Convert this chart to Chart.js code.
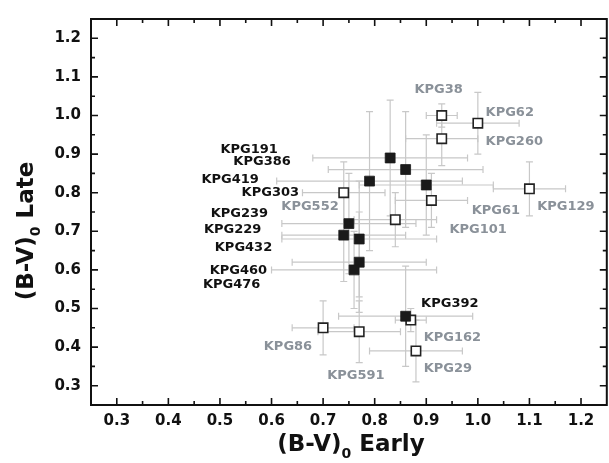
<!DOCTYPE html>
<html>
<head>
<meta charset="utf-8">
<script src="https://cdn.jsdelivr.net/npm/chart.js@4.4.0/dist/chart.umd.min.js"></script>
<style>
  html, body { margin: 0; padding: 0; background: #fff; overflow: hidden; }
  #wrap { width: 609px; height: 463px; overflow: hidden; }
</style>
</head>
<body>
<div id="wrap"><canvas id="chart" width="615" height="463"></canvas></div>
<script>
const X_TICKS = [0.3, 0.4, 0.5, 0.6, 0.7, 0.8, 0.9, 1.0, 1.1, 1.2];
const Y_TICKS = [0.3, 0.4, 0.5, 0.6, 0.7, 0.8, 0.9, 1.0, 1.1, 1.2];

// filled squares (black names)
const filledNames = ["KPG191", "KPG386", "KPG419", "KPG303", "KPG239", "KPG229", "KPG432", "KPG460", "KPG476", "KPG392"];
const filledX     = [0.83, 0.86, 0.79, 0.90, 0.75, 0.74, 0.77, 0.77, 0.76, 0.86];
const filledY     = [0.89, 0.86, 0.83, 0.82, 0.72, 0.69, 0.68, 0.62, 0.60, 0.48];
const filledXErr  = [0.15, 0.15, 0.18, 0.13, 0.13, 0.12, 0.15, 0.13, 0.16, 0.13];
const filledYErr  = [0.15, 0.15, 0.18, 0.13, 0.13, 0.12, 0.15, 0.13, 0.10, 0.13];

// open squares (grey names)
const openNames = ["KPG38", "KPG62", "KPG260", "KPG129", "KPG61", "KPG101", "KPG552", "KPG86", "KPG591", "KPG162", "KPG29"];
const openX     = [0.93, 1.00, 0.93, 1.10, 0.91, 0.84, 0.74, 0.70, 0.77, 0.87, 0.88];
const openY     = [1.00, 0.98, 0.94, 0.81, 0.78, 0.73, 0.80, 0.45, 0.44, 0.47, 0.39];
const openXErr  = [0.03, 0.08, 0.07, 0.07, 0.07, 0.08, 0.08, 0.06, 0.08, 0.03, 0.09];
const openYErr  = [0.03, 0.08, 0.07, 0.07, 0.07, 0.07, 0.08, 0.07, 0.08, 0.03, 0.08];

// where the names are written (axis units, left end of the text baseline)
const filledLabelX = [0.501, 0.526, 0.464, 0.542, 0.482, 0.469, 0.490, 0.480, 0.467, 0.890];
const filledLabelY = [0.904, 0.871, 0.825, 0.792, 0.738, 0.696, 0.650, 0.590, 0.552, 0.504];
const openLabelX   = [0.877, 1.015, 1.015, 1.115, 0.988, 0.945, 0.619, 0.585, 0.708, 0.895, 0.895];
const openLabelY   = [1.057, 1.000, 0.923, 0.754, 0.746, 0.696, 0.754, 0.393, 0.317, 0.417, 0.336];

const FONT = '"DejaVu Sans", "Liberation Sans", Arial, sans-serif';
const GREY = '#8a9199';
const BAR = '#c8c8c8';

function toPoints(xs, ys) {
  return xs.map((x, i) => ({ x: x, y: ys[i] }));
}

// error bars behind the squares
const errorBars = {
  id: 'errorBars',
  beforeDatasetsDraw(chart) {
    const { ctx } = chart;
    const sx = chart.scales.x, sy = chart.scales.y;
    const cap = 3.5;
    ctx.save();
    ctx.strokeStyle = BAR;
    ctx.lineWidth = 1.2;
    chart.data.datasets.forEach(ds => {
      ds.data.forEach((p, i) => {
        const px = sx.getPixelForValue(p.x), py = sy.getPixelForValue(p.y);
        const x0 = sx.getPixelForValue(p.x - ds.errX[i]);
        const x1 = sx.getPixelForValue(p.x + ds.errX[i]);
        const y0 = sy.getPixelForValue(p.y - ds.errY[i]);
        const y1 = sy.getPixelForValue(p.y + ds.errY[i]);
        ctx.beginPath();
        ctx.moveTo(x0, py); ctx.lineTo(x1, py);
        ctx.moveTo(x0, py - cap); ctx.lineTo(x0, py + cap);
        ctx.moveTo(x1, py - cap); ctx.lineTo(x1, py + cap);
        ctx.moveTo(px, y0); ctx.lineTo(px, y1);
        ctx.moveTo(px - cap, y0); ctx.lineTo(px + cap, y0);
        ctx.moveTo(px - cap, y1); ctx.lineTo(px + cap, y1);
        ctx.stroke();
      });
    });
    ctx.restore();
  }
};

// box with inward ticks on all four sides
const frame = {
  id: 'frame',
  afterDatasetsDraw(chart) {
    const { ctx, chartArea: a } = chart;
    const sx = chart.scales.x, sy = chart.scales.y;
    const minor = t => t.slice(0, -1).map((v, i) => (v + t[i + 1]) / 2);
    ctx.save();
    ctx.strokeStyle = '#111';
    ctx.lineWidth = 2;
    ctx.strokeRect(a.left, a.top, a.right - a.left, a.bottom - a.top);
    ctx.lineWidth = 1.6;
    ctx.beginPath();
    const tickX = (v, len) => {
      const p = sx.getPixelForValue(v);
      ctx.moveTo(p, a.bottom); ctx.lineTo(p, a.bottom - len);
      ctx.moveTo(p, a.top); ctx.lineTo(p, a.top + len);
    };
    const tickY = (v, len) => {
      const p = sy.getPixelForValue(v);
      ctx.moveTo(a.left, p); ctx.lineTo(a.left + len, p);
      ctx.moveTo(a.right, p); ctx.lineTo(a.right - len, p);
    };
    X_TICKS.forEach(v => tickX(v, 7));
    minor(X_TICKS).forEach(v => tickX(v, 4));
    Y_TICKS.forEach(v => tickY(v, 7));
    minor(Y_TICKS).forEach(v => tickY(v, 4));
    ctx.stroke();
    ctx.restore();
  }
};

// galaxy names
const names = {
  id: 'names',
  afterDatasetsDraw(chart) {
    const { ctx } = chart;
    const sx = chart.scales.x, sy = chart.scales.y;
    ctx.save();
    ctx.font = 'bold 13px ' + FONT;
    ctx.textAlign = 'left';
    ctx.textBaseline = 'alphabetic';
    ctx.fillStyle = '#111';
    filledNames.forEach((n, i) => {
      ctx.fillText(n, sx.getPixelForValue(filledLabelX[i]), sy.getPixelForValue(filledLabelY[i]));
    });
    ctx.fillStyle = GREY;
    openNames.forEach((n, i) => {
      ctx.fillText(n, sx.getPixelForValue(openLabelX[i]), sy.getPixelForValue(openLabelY[i]));
    });
    ctx.restore();
  }
};

// axis titles with the subscript 0
function subTitle(ctx, pre, sub, post, cx, base, size) {
  const big = 'bold ' + size + 'px ' + FONT;
  const small = 'bold ' + Math.round(size * 0.6) + 'px ' + FONT;
  ctx.font = big;
  const w1 = ctx.measureText(pre).width, w3 = ctx.measureText(post).width;
  ctx.font = small;
  const w2 = ctx.measureText(sub).width;
  let x = cx - (w1 + w2 + w3) / 2;
  ctx.font = big;
  ctx.fillText(pre, x, base);
  x += w1;
  ctx.font = small;
  ctx.fillText(sub, x, base + size * 0.3);
  x += w2;
  ctx.font = big;
  ctx.fillText(post, x, base);
}

const titles = {
  id: 'titles',
  afterDraw(chart) {
    const { ctx } = chart;
    ctx.save();
    ctx.fillStyle = '#111';
    ctx.textAlign = 'left';
    ctx.textBaseline = 'alphabetic';
    subTitle(ctx, '(B-V)', '0', ' Early', 351, 451, 23);
    ctx.translate(33, 231);
    ctx.rotate(-Math.PI / 2);
    subTitle(ctx, '(B-V)', '0', ' Late', 0, 0, 23);
    ctx.restore();
  }
};

const tickFont = { family: FONT, size: 15, weight: 'bold' };

new Chart(document.getElementById('chart'), {
  type: 'scatter',
  data: {
    datasets: [
      {
        label: 'filled',
        data: toPoints(filledX, filledY),
        errX: filledXErr,
        errY: filledYErr,
        pointStyle: 'rect',
        pointRadius: 7,
        pointBackgroundColor: '#1a1a1a',
        pointBorderColor: '#1a1a1a',
        pointBorderWidth: 0.8
      },
      {
        label: 'open',
        data: toPoints(openX, openY),
        errX: openXErr,
        errY: openYErr,
        pointStyle: 'rect',
        pointRadius: 6.6,
        pointBackgroundColor: '#ffffff',
        pointBorderColor: '#222',
        pointBorderWidth: 1.6
      }
    ]
  },
  options: {
    responsive: false,
    animation: false,
    devicePixelRatio: 1,
    events: [],
    layout: { padding: { left: 0, top: 5, right: 4, bottom: 0 } },
    plugins: { legend: { display: false }, tooltip: { enabled: false } },
    scales: {
      x: {
        type: 'linear',
        min: 0.25,
        max: 1.25,
        grid: { display: false, drawTicks: false },
        border: { display: false },
        afterFit: s => { s.height = 58; },
        afterBuildTicks: s => { s.ticks = X_TICKS.map(v => ({ value: v })); },
        ticks: { padding: 7, color: '#111', font: tickFont, autoSkip: false, maxRotation: 0, callback: v => v.toFixed(1) }
      },
      y: {
        type: 'linear',
        min: 0.25,
        max: 1.25,
        grid: { display: false, drawTicks: false },
        border: { display: false },
        afterFit: s => { s.width = 91; },
        afterBuildTicks: s => { s.ticks = Y_TICKS.map(v => ({ value: v })); },
        ticks: { padding: 10, color: '#111', font: tickFont, autoSkip: false, callback: v => v.toFixed(1) }
      }
    }
  },
  plugins: [errorBars, frame, names, titles]
});
</script>
</body>
</html>
